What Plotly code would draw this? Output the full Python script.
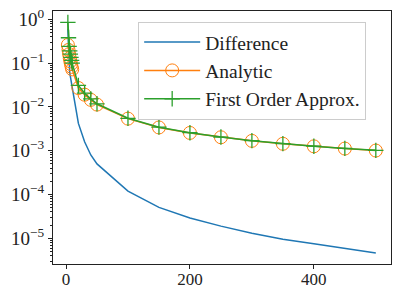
import plotly.graph_objects as go

x_vals = [3, 4, 5, 6, 7, 8, 9, 10, 20, 30, 40, 50, 100, 150, 200, 250, 300, 350, 400, 450, 500]
difference = [0.59, 0.18, 0.08, 0.06, 0.05, 0.04, 0.033, 0.028,
              0.0042, 0.0016, 0.0008, 0.0005, 0.00012, 5.1e-5, 2.9e-5, 1.9e-5,
              1.3e-5, 9.5e-6, 7.5e-6, 5.9e-6, 4.6e-6]
analytic = [0.26, 0.20, 0.16, 0.13, 0.11, 0.095, 0.082, 0.072,
            0.027, 0.019, 0.0145, 0.0113, 0.0054, 0.0034, 0.00255, 0.00203,
            0.00168, 0.00144, 0.00126, 0.00112, 0.00101]
first_order = [0.85, 0.38, 0.24, 0.19, 0.16, 0.135, 0.115, 0.10,
               0.031, 0.0206, 0.0153, 0.0118, 0.0055, 0.00345, 0.00258, 0.00205,
               0.0017, 0.00145, 0.00127, 0.00113, 0.00102]

y_tick_vals = [1e-5, 1e-4, 1e-3, 1e-2, 1e-1, 1e0]
y_tick_text = ["10<sup>\u22125</sup>", "10<sup>\u22124</sup>", "10<sup>\u22123</sup>",
               "10<sup>\u22122</sup>", "10<sup>\u22121</sup>", "10<sup>0</sup>"]
x_tick_vals = [0, 200, 400]

minor_vals = [m * 10.0 ** e for e in range(-6, 1) for m in range(2, 10)]

BLUE, ORANGE, GREEN = "#1f77b4", "#ff7f0e", "#2ca02c"
FONT = "Liberation Serif"

fig = go.Figure()
fig.add_trace(go.Scatter(x=x_vals, y=difference, mode="lines", name="Difference",
                         line=dict(color=BLUE, width=1.5)))
fig.add_trace(go.Scatter(x=x_vals, y=analytic, mode="lines+markers", name="Analytic",
                         line=dict(color=ORANGE, width=1.5),
                         marker=dict(symbol="circle-open", size=13, color=ORANGE,
                                     line=dict(width=1, color=ORANGE))))
fig.add_trace(go.Scatter(x=x_vals, y=first_order, mode="lines+markers",
                         name="First Order Approx.",
                         line=dict(color=GREEN, width=1.5),
                         marker=dict(symbol="cross-thin", size=11, color=GREEN,
                                     line=dict(width=1.3, color=GREEN))))

fig.update_layout(
    width=393, height=288,
    margin=dict(l=53, r=2, t=11, b=24),
    paper_bgcolor="white", plot_bgcolor="white",
    font=dict(family=FONT, size=18, color="#222"),
    showlegend=True,
    legend=dict(x=0.252, y=0.957, xanchor="left", yanchor="top",
                bgcolor="rgba(255,255,255,0.8)", bordercolor="#cccccc", borderwidth=1,
                font=dict(family=FONT, size=19.5, color="#222"),
                tracegroupgap=0, itemwidth=56),
    xaxis=dict(range=[-21, 524.5], tickmode="array", tickvals=x_tick_vals,
               showgrid=False, zeroline=False, showline=True, mirror=True,
               linecolor="#222", linewidth=1.2, ticks="outside", ticklen=4,
               tickcolor="#222", tickfont=dict(family=FONT, size=17),
               automargin=False, ticklabelstandoff=-5),
    yaxis=dict(type="log", range=[-5.586, 0.19], tickmode="array",
               tickvals=y_tick_vals, ticktext=y_tick_text,
               showgrid=False, zeroline=False, showline=True, mirror=True,
               linecolor="#222", linewidth=1.2, ticks="outside", ticklen=4,
               tickcolor="#222", tickfont=dict(family=FONT, size=19),
               automargin=False,
               minor=dict(tickmode="array", tickvals=minor_vals, ticks="outside",
                          ticklen=2, tickcolor="#222", showgrid=False)),
)

fig.write_html("out.html", config={"displayModeBar": False},
               post_script="document.body.style.margin='0';document.body.style.padding='0';")
